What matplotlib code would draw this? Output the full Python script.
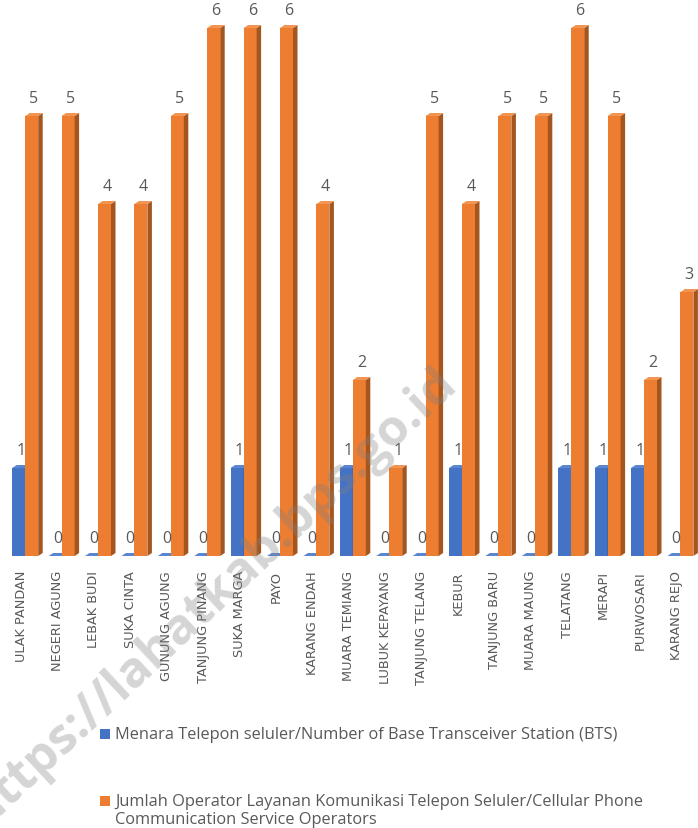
import matplotlib.pyplot as plt
from matplotlib.patches import Polygon
import numpy as np

desa = ["ULAK PANDAN", "NEGERI AGUNG", "LEBAK BUDI", "SUKA CINTA", "GUNUNG AGUNG",
        "TANJUNG PINANG", "SUKA MARGA", "PAYO", "KARANG ENDAH", "MUARA TEMIANG",
        "LUBUK KEPAYANG", "TANJUNG TELANG", "KEBUR", "TANJUNG BARU", "MUARA MAUNG",
        "TELATANG", "MERAPI", "PURWOSARI", "KARANG REJO"]
bts = [1, 0, 0, 0, 0, 0, 1, 0, 0, 1, 0, 0, 1, 0, 0, 1, 1, 1, 0]
operator = [5, 5, 4, 4, 5, 6, 6, 6, 4, 2, 1, 5, 4, 5, 5, 6, 5, 2, 3]

label_bts = "Menara Telepon seluler/Number of Base Transceiver Station (BTS)"
label_op = "Jumlah Operator Layanan Komunikasi Telepon Seluler/Cellular Phone\nCommunication Service Operators"

biru = ("#4472C4", "#2F5597", "#5A86D0")
oranye = ("#ED7D31", "#A5561F", "#F29452")
abu = "#595959"

W, H = 698, 829
fig = plt.figure(figsize=(W / 100, H / 100), dpi=100)
ax = fig.add_axes([9 / W, 1 - 557 / H, 691.6 / W, 554.4 / H])

x = np.arange(len(desa))
w = 0.357
dx, dy = 0.124, 0.034


def batang(ax, kiri, nilai, warna):
    ax.bar(kiri, nilai, width=w, align="edge", color=warna[0], linewidth=0, zorder=2)
    for l, v in zip(kiri, nilai):
        sisi = Polygon([(l + w, 0), (l + w + dx, dy), (l + w + dx, v + dy), (l + w, v)],
                       closed=True, fc=warna[1], ec="none", zorder=2)
        atas = Polygon([(l, v), (l + dx, v + dy), (l + w + dx, v + dy), (l + w, v)],
                       closed=True, fc=warna[2], ec="none", zorder=2)
        ax.add_patch(sisi)
        ax.add_patch(atas)
        ax.annotate(str(v), (l + w / 2 + dx / 2, v + dy), xytext=(0, 5),
                    textcoords="offset points", ha="center", va="bottom",
                    fontsize=11.5, color=abu, family="Open Sans")


batang(ax, x - 0.055 - w, bts, biru)
batang(ax, x - 0.055, operator, oranye)

ax.set_xlim(-0.5, len(desa) - 0.5)
ax.set_ylim(0, 6.3)
ax.set_yticks([])
ax.set_xticks(x - 0.17)
ax.set_xticklabels(desa, rotation=90, fontsize=9.3, color=abu,
                   family=["Liberation Sans Narrow", "DejaVu Sans"])
ax.tick_params(axis="x", length=0, pad=10)
for s in ax.spines.values():
    s.set_visible(False)

# legenda
fig.patches.append(plt.Rectangle((100 / W, 1 - 740 / H), 10 / W, 10 / H,
                                 transform=fig.transFigure, fc=biru[0], ec="none"))
fig.text(115 / W, 1 - 735 / H, label_bts, fontsize=11.8, color=abu,
         family="Open Sans", va="center")
fig.patches.append(plt.Rectangle((100 / W, 1 - 807 / H), 10 / W, 10 / H,
                                 transform=fig.transFigure, fc=oranye[0], ec="none"))
fig.text(115 / W, 1 - 811 / H, label_op, fontsize=11.8, color=abu,
         family="Open Sans", va="center", linespacing=1.1)

# watermark
fig.text(212 / W, 1 - 598 / H, "https://lahatkab.bps.go.id", fontsize=36,
         fontweight="bold", color="#808080", alpha=0.33, rotation=43,
         rotation_mode="anchor", ha="center", va="center", family="Open Sans")

fig.savefig("out.png", dpi=100)
